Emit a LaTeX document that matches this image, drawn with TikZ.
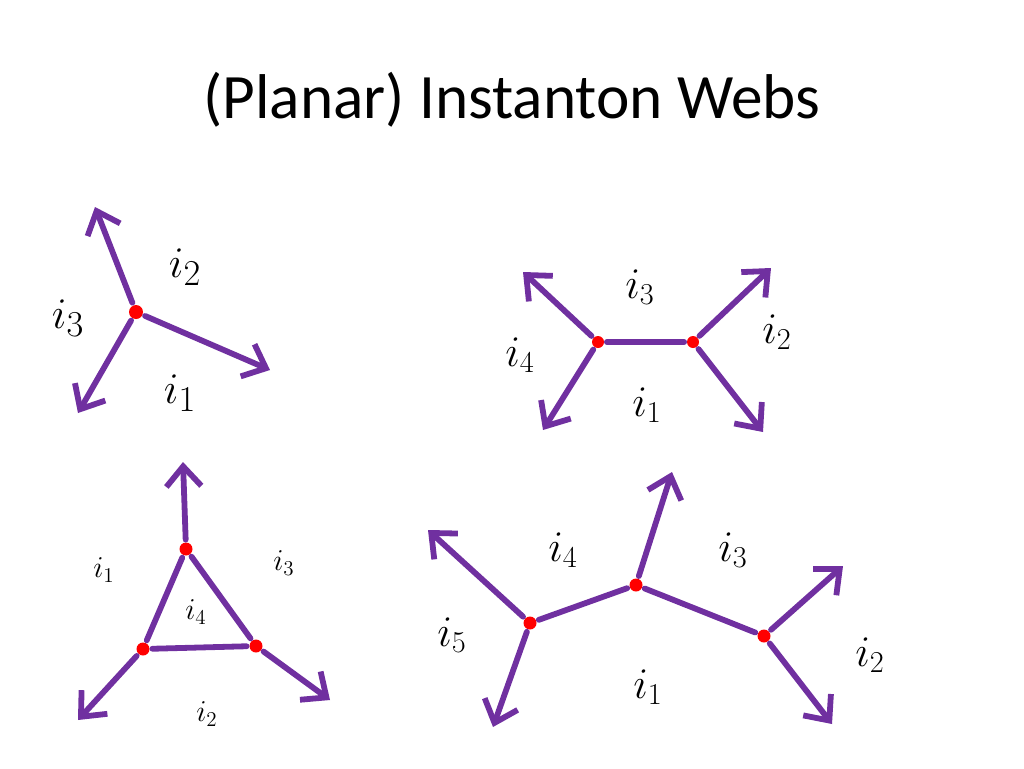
\documentclass[tikz,border=0pt]{standalone}
\usepackage{fontspec}
\setmainfont{Carlito}
\usepackage{amsmath}
\usetikzlibrary{arrows.meta}

\begin{document}
\begin{tikzpicture}[x=0.02cm,y=-0.02cm,line width=3.3pt,
    web/.style={draw=webpurple,line cap=round},
    leg/.style={web,-{Straight Barb[length=4mm,width=7mm,line width=3.3pt]}},
    vtx/.style={circle,fill=red,inner sep=0pt,minimum size=0.28cm},
    big/.style={font=\fontsize{30}{34}\selectfont},
    mid/.style={font=\fontsize{25}{28}\selectfont},
    small/.style={font=\fontsize{17}{20}\selectfont}]
    \definecolor{webpurple}{HTML}{7030A0}
    \useasboundingbox (0,0) rectangle (1024,768);
    \node (title) at (512,100) {\fontsize{36}{42}\selectfont (Planar) Instanton Webs};

    % three legs
    \node [vtx] (a) at (136,312) {};
    \coordinate (a1) at (95,207);
    \coordinate (a2) at (270,370);
    \coordinate (a3) at (78,413);
    \foreach \e in {a1,a2,a3} \draw [leg] (a) -- (\e);
    \node [big] at (185,267) {$i_2$};
    \node [big] at (68,318) {$i_3$};
    \node [big] at (180,393) {$i_1$};

    % four legs
    \node [vtx,minimum size=0.24cm] (b) at (598,342) {};
    \node [vtx,minimum size=0.24cm] (c) at (693,342) {};
    \coordinate (b1) at (523,272);
    \coordinate (b2) at (543,430);
    \coordinate (c1) at (771,268);
    \coordinate (c2) at (763,432);
    \draw [web] (b) -- (c);
    \foreach \e in {b1,b2} \draw [leg] (b) -- (\e);
    \foreach \e in {c1,c2} \draw [leg] (c) -- (\e);
    \node [mid] at (640,287) {$i_3$};
    \node [mid] at (520,355) {$i_4$};
    \node [mid] at (777,332) {$i_2$};
    \node [mid] at (647,405) {$i_1$};

    % triangle
    \node [vtx,minimum size=0.26cm] (d) at (186,549) {};
    \node [vtx,minimum size=0.26cm] (e) at (143,649) {};
    \node [vtx,minimum size=0.26cm] (f) at (256,646) {};
    \coordinate (d1) at (183,462);
    \coordinate (e1) at (78,720);
    \coordinate (f1) at (330,700);
    \draw [web] (d) -- (e) -- (f) -- (d);
    \draw [leg] (d) -- (d1);
    \draw [leg] (e) -- (e1);
    \draw [leg] (f) -- (f1);
    \node [small] at (104,570) {$i_1$};
    \node [small] at (284,563) {$i_3$};
    \node [small] at (196,612) {$i_4$};
    \node [small] at (207,714) {$i_2$};

    % five legs
    \node [vtx,minimum size=0.26cm] (g) at (530,623) {};
    \node [vtx,minimum size=0.26cm] (h) at (636,585) {};
    \node [vtx,minimum size=0.26cm] (k) at (764,636) {};
    \coordinate (g1) at (428,530);
    \coordinate (g2) at (493,727);
    \coordinate (h1) at (672,472);
    \coordinate (k1) at (843,566);
    \coordinate (k2) at (832,724);
    \draw [web] (g) -- (h) -- (k);
    \foreach \e in {g1,g2} \draw [leg] (g) -- (\e);
    \draw [leg] (h) -- (h1);
    \foreach \e in {k1,k2} \draw [leg] (k) -- (\e);
    \node [big,font=\fontsize{27}{30}\selectfont] at (563,550) {$i_4$};
    \node [big,font=\fontsize{27}{30}\selectfont] at (733,550) {$i_3$};
    \node [big,font=\fontsize{27}{30}\selectfont] at (452,635) {$i_5$};
    \node [big,font=\fontsize{27}{30}\selectfont] at (870,655) {$i_2$};
    \node [big,font=\fontsize{27}{30}\selectfont] at (648,687) {$i_1$};
\end{tikzpicture}
\end{document}
